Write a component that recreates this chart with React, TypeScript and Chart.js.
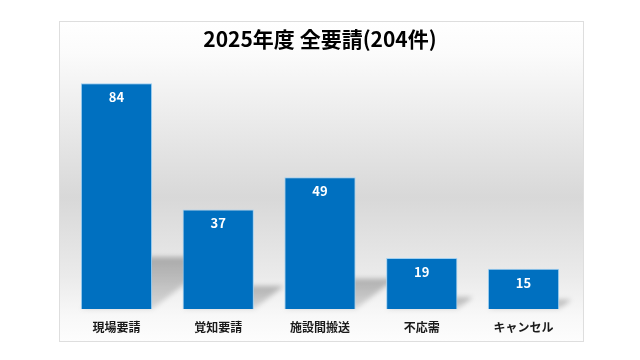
import React, { useEffect, useRef } from "react";
import { Chart, registerables } from "chart.js";

Chart.register(...registerables);

const TITLE = "2025年度 全要請(204件)";
const CATEGORIES = ["現場要請", "覚知要請", "施設間搬送", "不応需", "キャンセル"];
const COUNTS = [84, 37, 49, 19, 15];
const Y_MAX = 90;

const BAR_COLOR = "#0070c0";
const FONT_JP = "'Noto Sans CJK JP', 'Noto Sans', sans-serif";

// Panel background (vertical gray gradient) and thin frame
const panelPlugin = {
  id: "panel",
  beforeDraw(chart: any) {
    const { ctx } = chart;
    const x0 = 59.5, y0 = 21.5, x1 = 583.5, y1 = 341.5;
    ctx.save();
    const g = ctx.createLinearGradient(0, y0, 0, y1);
    g.addColorStop(0, "#ffffff");
    g.addColorStop(0.1, "#fbfbfb");
    g.addColorStop(0.55, "#d8d8d8");
    g.addColorStop(0.8, "#ebebeb");
    g.addColorStop(0.92, "#f8f8f8");
    g.addColorStop(1, "#fdfdfd");
    ctx.fillStyle = g;
    ctx.fillRect(x0, y0, x1 - x0, y1 - y0);
    ctx.strokeStyle = "#dedede";
    ctx.lineWidth = 1;
    ctx.strokeRect(x0, y0, x1 - x0, y1 - y0);
    ctx.restore();
  },
};

// Perspective floor shadow cast behind each bar
const barShadowPlugin = {
  id: "barShadow",
  beforeDatasetsDraw(chart: any) {
    const { ctx } = chart;
    const meta = chart.getDatasetMeta(0);
    ctx.save();
    ctx.filter = "blur(2.5px)";
    meta.data.forEach((bar: any) => {
      const { x, y, base, width } = bar.getProps(["x", "y", "base", "width"], true);
      const h = base - y;
      const L = x - width / 2;
      const R = x + width / 2;
      const dx = 0.3 * h;
      const dy = 0.23 * h;
      const g = ctx.createLinearGradient(0, base - dy, 0, base);
      g.addColorStop(0, "rgba(0,0,0,0.26)");
      g.addColorStop(1, "rgba(0,0,0,0.12)");
      ctx.fillStyle = g;
      ctx.beginPath();
      ctx.moveTo(L, base);
      ctx.lineTo(R, base);
      ctx.lineTo(R + dx, base - dy);
      ctx.lineTo(L + dx, base - dy);
      ctx.closePath();
      ctx.fill();
    });
    ctx.restore();
  },
};

// White count labels inside the top of each bar
const valueLabelPlugin = {
  id: "valueLabels",
  afterDatasetsDraw(chart: any) {
    const { ctx } = chart;
    const meta = chart.getDatasetMeta(0);
    const values = chart.data.datasets[0].data as number[];
    ctx.save();
    ctx.fillStyle = "#ffffff";
    ctx.font = `bold 13px ${FONT_JP}`;
    ctx.textAlign = "center";
    ctx.textBaseline = "middle";
    meta.data.forEach((bar: any, i: number) => {
      ctx.fillText(String(values[i]), bar.x, bar.y + 14);
    });
    ctx.restore();
  },
};

export default function App() {
  const canvasRef = useRef<HTMLCanvasElement | null>(null);

  useEffect(() => {
    if (!canvasRef.current) return;
    const chart = new Chart(canvasRef.current, {
      type: "bar",
      data: {
        labels: CATEGORIES,
        datasets: [
          {
            data: COUNTS,
            backgroundColor: BAR_COLOR,
            borderColor: "#9fd0f2",
            borderWidth: 1,
            categoryPercentage: 1,
            barPercentage: 0.7,
          },
        ],
      },
      options: {
        animation: false,
        responsive: false,
        maintainAspectRatio: false,
        layout: { padding: { left: 65.6, right: 65.6, top: 0, bottom: 22.6 } },
        plugins: {
          legend: { display: false },
          tooltip: { enabled: false },
          title: {
            display: true,
            text: TITLE,
            color: "#000000",
            font: { family: FONT_JP, size: 21, weight: "bold", lineHeight: 1.2 },
            padding: { top: 26, bottom: 15.8 },
          },
        },
        scales: {
          x: {
            grid: { display: false },
            border: { display: false },
            ticks: {
              color: "#1a1a1a",
              padding: 3,
              font: { family: FONT_JP, size: 12, weight: "bold" },
            },
          },
          y: {
            display: false,
            min: 0,
            max: Y_MAX,
          },
        },
      },
      plugins: [panelPlugin, barShadowPlugin, valueLabelPlugin],
    });
    return () => chart.destroy();
  }, []);

  return (
    <div style={{ position: "fixed", left: 0, top: 0, width: 640, height: 360, background: "#ffffff" }}>
      <canvas ref={canvasRef} width={640} height={360} style={{ display: "block" }} />
    </div>
  );
}
